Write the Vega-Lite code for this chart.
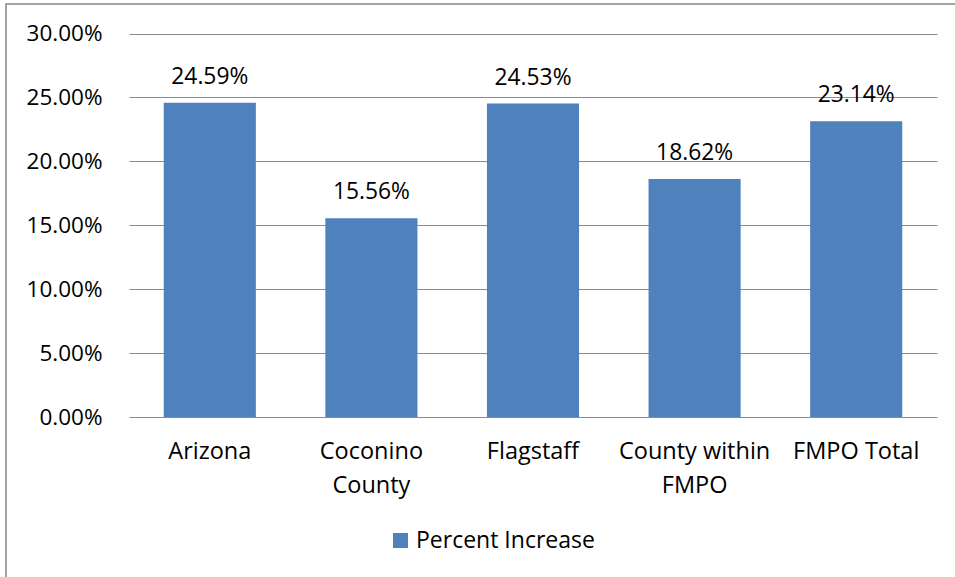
{
  "$schema": "https://vega.github.io/schema/vega-lite/v6.json",
  "width": 955,
  "height": 580,
  "autosize": {"type": "none"},
  "padding": {"left": 6, "top": 4, "right": 0, "bottom": 0},
  "background": "white",
  "config": {
    "font": "Open Sans",
    "view": {"stroke": "#878787", "strokeWidth": 1.5},
    "axis": {"labelColor": "#000000", "labelFont": "Open Sans"}
  },
  "data": {
    "values": [
      {"area": "Arizona", "increase": 0.2459},
      {"area": "Coconino County", "increase": 0.1556},
      {"area": "Flagstaff", "increase": 0.2453},
      {"area": "County within FMPO", "increase": 0.1862},
      {"area": "FMPO Total", "increase": 0.2314}
    ]
  },
  "encoding": {
    "x": {
      "field": "area",
      "type": "nominal",
      "sort": null,
      "title": null,
      "scale": {"range": [123, 931], "paddingInner": 0.43, "paddingOuter": 0.215},
      "axis": {
        "orient": "bottom",
        "offset": -167,
        "domain": false,
        "ticks": false,
        "tickSize": 0,
        "labelPadding": 22,
        "labelFontSize": 23.5,
        "labelAngle": 0,
        "labelBaseline": "top",
        "labelLineHeight": 34,
        "labelExpr": "datum.value == 'Coconino County' ? ['Coconino', 'County'] : datum.value == 'County within FMPO' ? ['County within', 'FMPO'] : datum.value"
      }
    },
    "y": {
      "field": "increase",
      "type": "quantitative",
      "title": null,
      "scale": {"domain": [0, 0.3], "range": [413, 29.6], "nice": false, "zero": true},
      "axis": {
        "orient": "left",
        "offset": -123,
        "values": [0, 0.05, 0.1, 0.15, 0.2, 0.25, 0.3],
        "format": ".2%",
        "domain": false,
        "ticks": false,
        "tickSize": 0,
        "labelPadding": 27,
        "labelFontSize": 22.5,
        "grid": true,
        "gridColor": "#8a8a8a",
        "gridWidth": 1.2
      }
    }
  },
  "layer": [
    {
      "mark": {"type": "bar"},
      "encoding": {
        "color": {
          "datum": "Percent Increase",
          "type": "nominal",
          "scale": {"range": ["#4F81BD"]},
          "legend": {
            "title": null,
            "orient": "none",
            "legendX": 383,
            "legendY": 525,
            "padding": 0,
            "symbolType": "square",
            "symbolSize": 225,
            "symbolStrokeWidth": 0,
            "labelFontSize": 23,
            "labelFont": "Open Sans",
            "labelColor": "#000000",
            "labelOffset": 4,
            "labelLimit": 400
          }
        }
      }
    },
    {
      "mark": {"type": "text", "baseline": "alphabetic", "dy": -19, "fontSize": 22.8, "color": "#000000"},
      "encoding": {
        "text": {"field": "increase", "type": "quantitative", "format": ".2%"}
      }
    }
  ]
}
